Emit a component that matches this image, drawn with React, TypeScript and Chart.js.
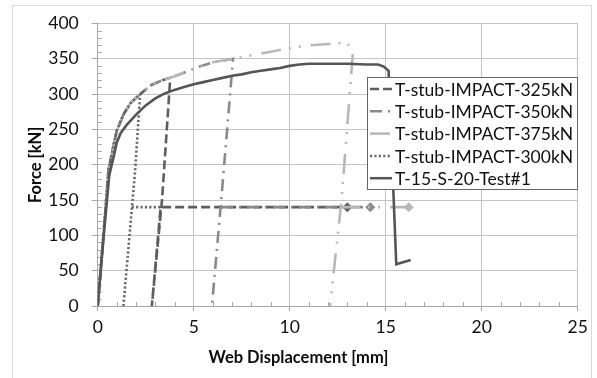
import { useEffect, useRef } from 'react';
import { Chart, registerables } from 'chart.js';

Chart.register(...registerables);

const FONT = 'Lato, "Open Sans", sans-serif';

// ---------- data ----------
const seriesNames = [
  'T-stub-IMPACT-325kN',
  'T-stub-IMPACT-350kN',
  'T-stub-IMPACT-375kN',
  'T-stub-IMPACT-300kN',
  'T-15-S-20-Test#1',
];

const s325X = [0, 0.3, 0.56, 0.73, 0.99, 1.34, 1.7, 2.21, 2.8, 3.3, 3.78, 3.35, 2.82, 3.28, 13.0];
const s325Y = [0, 100, 192, 215, 248, 271, 287, 300, 313, 319, 323, 150, 0, 140, 140];

const s350X = [0, 0.3, 0.56, 0.73, 0.99, 1.34, 1.7, 2.21, 2.8, 3.3, 3.78, 4.65, 5.17, 6.0, 7.05, 6.48, 5.95, 6.2, 6.42, 14.2];
const s350Y = [0, 100, 192, 215, 248, 271, 287, 300, 313, 319, 323, 332, 338, 345, 350, 165, 0, null, 140, 140];

const s375X = [0, 0.3, 0.56, 0.73, 0.99, 1.34, 1.7, 2.21, 2.8, 3.3, 3.78, 4.65, 5.17, 6.0, 7.05, 8, 9, 10, 11, 12, 12.95, 13.3, 12.7, 12.1, 12.4, 12.62, 16.2];
const s375Y = [0, 100, 192, 215, 248, 271, 287, 300, 313, 319, 323, 332, 338, 345, 350, 355, 360, 365, 369, 371, 373, 362, 150, 0, null, 140, 140];

const s300X = [0, 0.3, 0.56, 0.73, 0.99, 1.34, 1.7, 2.21, 1.95, 1.34, 1.5, 1.77, 3.3];
const s300Y = [0, 100, 192, 215, 248, 271, 287, 300, 192, 0, null, 140, 140];

const testX = [0, 0.3, 0.6, 0.82, 1.0, 1.2, 1.5, 2.0, 2.5, 3.0, 3.5, 4.0, 4.5, 5.0, 5.5, 6.0, 6.5, 7.0, 7.5, 8.0, 8.5, 9.0, 9.5, 10.0, 10.5, 11, 12, 13, 14, 14.6, 14.9, 15.15, 15.55, 16.3];
const testY = [0, 95, 185, 210, 232, 245, 256, 271, 284, 294, 301, 306, 310, 314, 317, 320, 323, 326, 328, 331, 333, 335, 337, 340, 342, 343, 343, 343, 342, 342, 339, 333, 59, 65];

const markerLast = [true, true, true, false, false];

const colors = ['#5e5e5e', '#8a8a8a', '#b8b8b8', '#6a6a6a', '#555555'];
const dashes: number[][] = [[9, 4], [12, 6, 2, 6], [20, 8, 2, 8, 2, 10], [2.2, 2.2], []];

const xs = [s325X, s350X, s375X, s300X, testX];
const ys = [s325Y, s350Y, s375Y, s300Y, testY];
const drawOrder = [5, 4, 3, 2, 1];

function toPoints(x: number[], y: (number | null)[]) {
  return x.map((v, i) => ({ x: v, y: y[i] }));
}

// ---------- plugins ----------
const decorPlugin = {
  id: 'decor',
  beforeDraw(chart: any) {
    const ctx = chart.ctx;
    ctx.save();
    ctx.fillStyle = '#ffffff';
    ctx.fillRect(0, 0, chart.width, chart.height);
    ctx.strokeStyle = '#d9d9d9';
    ctx.lineWidth = 1;
    ctx.strokeRect(12.5, 5.5, 579, 420);
    ctx.restore();
  },
  beforeDatasetsDraw(chart: any) {
    const ctx = chart.ctx;
    const xS = chart.scales.x;
    const yS = chart.scales.y;
    const a = chart.chartArea;
    ctx.save();
    ctx.strokeStyle = '#a6a6a6';
    ctx.lineWidth = 1;
    ctx.beginPath();
    for (let v = 10; v < 400; v += 10) {
      if (v % 50 === 0) continue;
      const py = Math.round(yS.getPixelForValue(v)) + 0.5;
      ctx.moveTo(a.left, py);
      ctx.lineTo(a.left + 4, py);
    }
    for (let v = 1; v < 25; v += 1) {
      if (v % 5 === 0) continue;
      const px = Math.round(xS.getPixelForValue(v)) + 0.5;
      ctx.moveTo(px, a.bottom);
      ctx.lineTo(px, a.bottom - 4);
    }
    ctx.stroke();
    ctx.restore();
  },
  afterDraw(chart: any) {
    const ctx = chart.ctx;
    const a = chart.chartArea;
    ctx.save();
    // axis titles
    ctx.fillStyle = '#0d0d0d';
    ctx.font = `bold 16.5px ${FONT}`;
    ctx.textAlign = 'center';
    ctx.textBaseline = 'middle';
    ctx.fillText('Web Displacement [mm]', chart.width / 2, 358);
    ctx.save();
    ctx.translate(36, (a.top + a.bottom) / 2);
    ctx.rotate(-Math.PI / 2);
    ctx.fillText('Force [kN]', 0, 0);
    ctx.restore();

    // legend
    const bx = 367.5, by = 77.5, bw = 210, bh = 112;
    ctx.fillStyle = '#ffffff';
    ctx.fillRect(bx, by, bw, bh);
    ctx.strokeStyle = '#666666';
    ctx.lineWidth = 1;
    ctx.strokeRect(bx, by, bw, bh);
    ctx.font = `17.5px ${FONT}`;
    ctx.textAlign = 'left';
    ctx.textBaseline = 'middle';
    seriesNames.forEach((name, i) => {
      const cy = 89 + i * 22.3;
      ctx.save();
      ctx.strokeStyle = colors[i];
      ctx.lineWidth = 2.5;
      ctx.setLineDash(dashes[i]);
      ctx.beginPath();
      ctx.moveTo(370, cy);
      ctx.lineTo(392, cy);
      ctx.stroke();
      ctx.restore();
      ctx.fillStyle = '#111111';
      ctx.fillText(name, 395, cy + 1);
    });
    ctx.restore();
  },
};

export default function App() {
  const ref = useRef<HTMLCanvasElement | null>(null);

  useEffect(() => {
    document.body.style.margin = '0';
    const canvas = ref.current;
    if (!canvas) return;
    const datasets = seriesNames.map((name, i) => ({
      label: name,
      data: toPoints(xs[i], ys[i]),
      borderColor: colors[i],
      backgroundColor: colors[i],
      borderWidth: 2.6,
      borderDash: dashes[i],
      borderCapStyle: 'butt',
      spanGaps: false,
      tension: 0,
      order: drawOrder[i],
      pointStyle: 'rectRot',
      pointBorderWidth: 0,
      pointRadius: (c: any) =>
        markerLast[i] && c.dataIndex === xs[i].length - 1 ? 5 : 0,
      pointHoverRadius: 0,
    }));

    const chart = new Chart(canvas, {
      type: 'line',
      data: { datasets } as any,
      options: {
        responsive: false,
        animation: false,
        parsing: true,
        layout: { padding: { top: 22, right: 19.3, left: 0, bottom: 0 } },
        plugins: {
          legend: { display: false },
          tooltip: { enabled: false },
          title: { display: false },
        },
        scales: {
          x: {
            type: 'linear',
            min: 0,
            max: 25,
            ticks: {
              stepSize: 5,
              color: '#111111',
              font: { family: FONT, size: 17.5 },
              padding: 6,
            },
            grid: { color: '#c4c4c4', tickLength: 5, tickColor: '#a6a6a6', lineWidth: 1 },
            border: { color: '#a6a6a6', width: 1 },
            afterFit: (s: any) => {
              s.height = 72;
            },
          },
          y: {
            type: 'linear',
            min: 0,
            max: 400,
            ticks: {
              stepSize: 50,
              color: '#111111',
              font: { family: FONT, size: 17.5 },
              padding: 13,
            },
            grid: { color: '#c4c4c4', tickLength: 6, tickColor: '#a6a6a6', lineWidth: 1 },
            border: { color: '#a6a6a6', width: 1 },
            afterFit: (s: any) => {
              s.width = 97.7;
            },
          },
        },
      } as any,
      plugins: [decorPlugin],
    });
    return () => chart.destroy();
  }, []);

  return (
    <div style={{ width: 597, height: 378 }}>
      <canvas ref={ref} width={597} height={378} style={{ display: 'block' }} />
    </div>
  );
}
